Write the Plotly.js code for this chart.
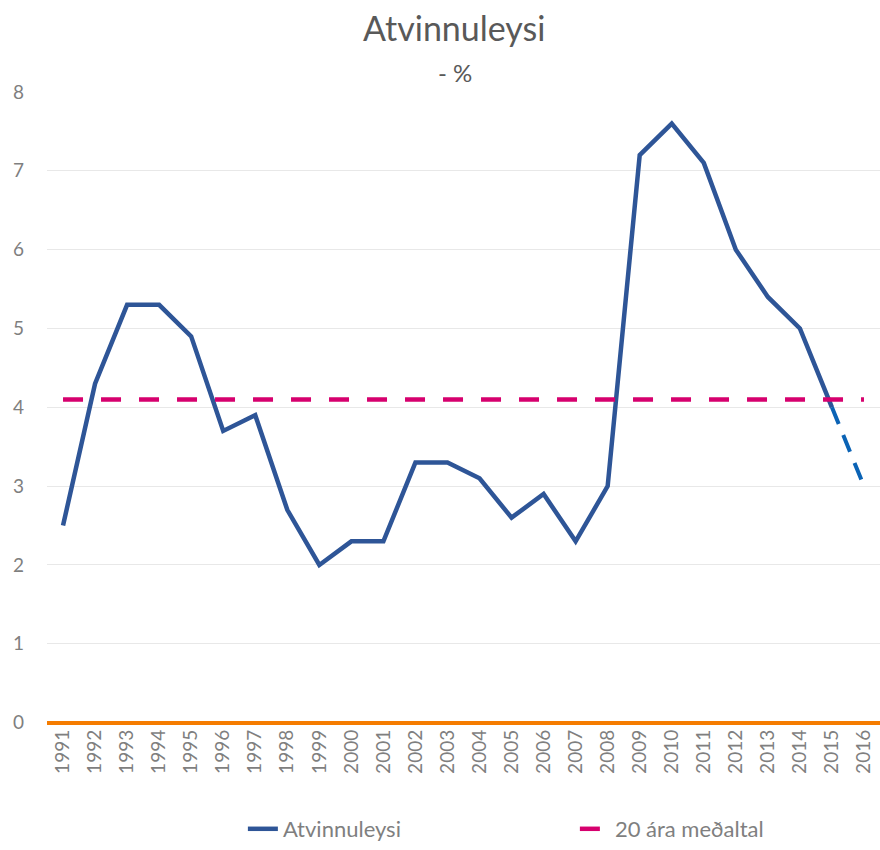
<!DOCTYPE html>
<html>
<head>
<meta charset="utf-8">
<script src="https://cdn.plot.ly/plotly-3.0.1.min.js"></script>
<style>html,body{margin:0;padding:0;background:#fff}#chart{width:880px;height:850px}</style>
</head>
<body>
<div id="chart"></div>
<script>
const years = ["1991","1992","1993","1994","1995","1996","1997","1998","1999","2000","2001","2002","2003","2004","2005","2006","2007","2008","2009","2010","2011","2012","2013","2014","2015","2016"];
const unemployment = [2.5,4.3,5.3,5.3,4.9,3.7,3.9,2.7,2.0,2.3,2.3,3.3,3.3,3.1,2.6,2.9,2.3,3.0,7.2,7.6,7.1,6.0,5.4,5.0,4.0,null];
const projectionYears = ["2015","2016"];
const projection = [4.0,3.0];
const average20 = [4.1,4.1,4.1,4.1,4.1,4.1,4.1,4.1,4.1,4.1,4.1,4.1,4.1,4.1,4.1,4.1,4.1,4.1,4.1,4.1,4.1,4.1,4.1,4.1,4.1,4.1];

const fontFam = "Lato, 'Open Sans', sans-serif";
const gray = "#7F7F7F";

const traces = [
  {x: years, y: unemployment, type:'scatter', mode:'lines', name:'Atvinnuleysi', line:{color:'#2E5597', width:4.5}},
  {x: projectionYears, y: projection, type:'scatter', mode:'lines', showlegend:false, line:{color:'#0B63B5', width:4, dash:'18px,12px'}},
  {x: years, y: average20, type:'scatter', mode:'lines', name:'20 ára meðaltal', line:{color:'#D6006E', width:4.5, dash:'20px,18px'}}
];

const layout = {
  width:880, height:850,
  margin:{l:47, r:0, t:92, b:125},
  paper_bgcolor:'#fff', plot_bgcolor:'#fff',
  font:{family:fontFam, color:gray, size:19},
  showlegend:true,
  legend:{orientation:'h', x:0.276, xanchor:'left', xref:'container', y:-0.022, yref:'container', yanchor:'bottom', entrywidth:287, font:{size:22, color:gray}, traceorder:'normal'},
  xaxis:{type:'category', range:[-0.5,25.5], tickangle:-90, showgrid:false, zeroline:false, showline:false, ticks:'', tickfont:{size:19, color:gray}, automargin:false},
  yaxis:{range:[-0.03,8], dtick:1, showgrid:true, gridcolor:'#E8E8E8', gridwidth:1, zeroline:true, zerolinecolor:'#F57C00', zerolinewidth:4, showline:false, ticks:'', tickfont:{size:19, color:gray}, ticklabelstandoff:22, automargin:false},
  annotations:[
    {text:'Atvinnuleysi', xref:'paper', yref:'paper', x:(454-47)/833, y:(725-28)/633, yanchor:'middle', showarrow:false, font:{size:34, color:'#595959'}},
    {text:'- %', xref:'paper', yref:'paper', x:(455-47)/833, y:(725-72)/633, yanchor:'middle', showarrow:false, font:{size:24, color:'#595959'}}
  ]
};

Plotly.newPlot('chart', traces, layout, {displayModeBar:false, staticPlot:true});
</script>
</body>
</html>
